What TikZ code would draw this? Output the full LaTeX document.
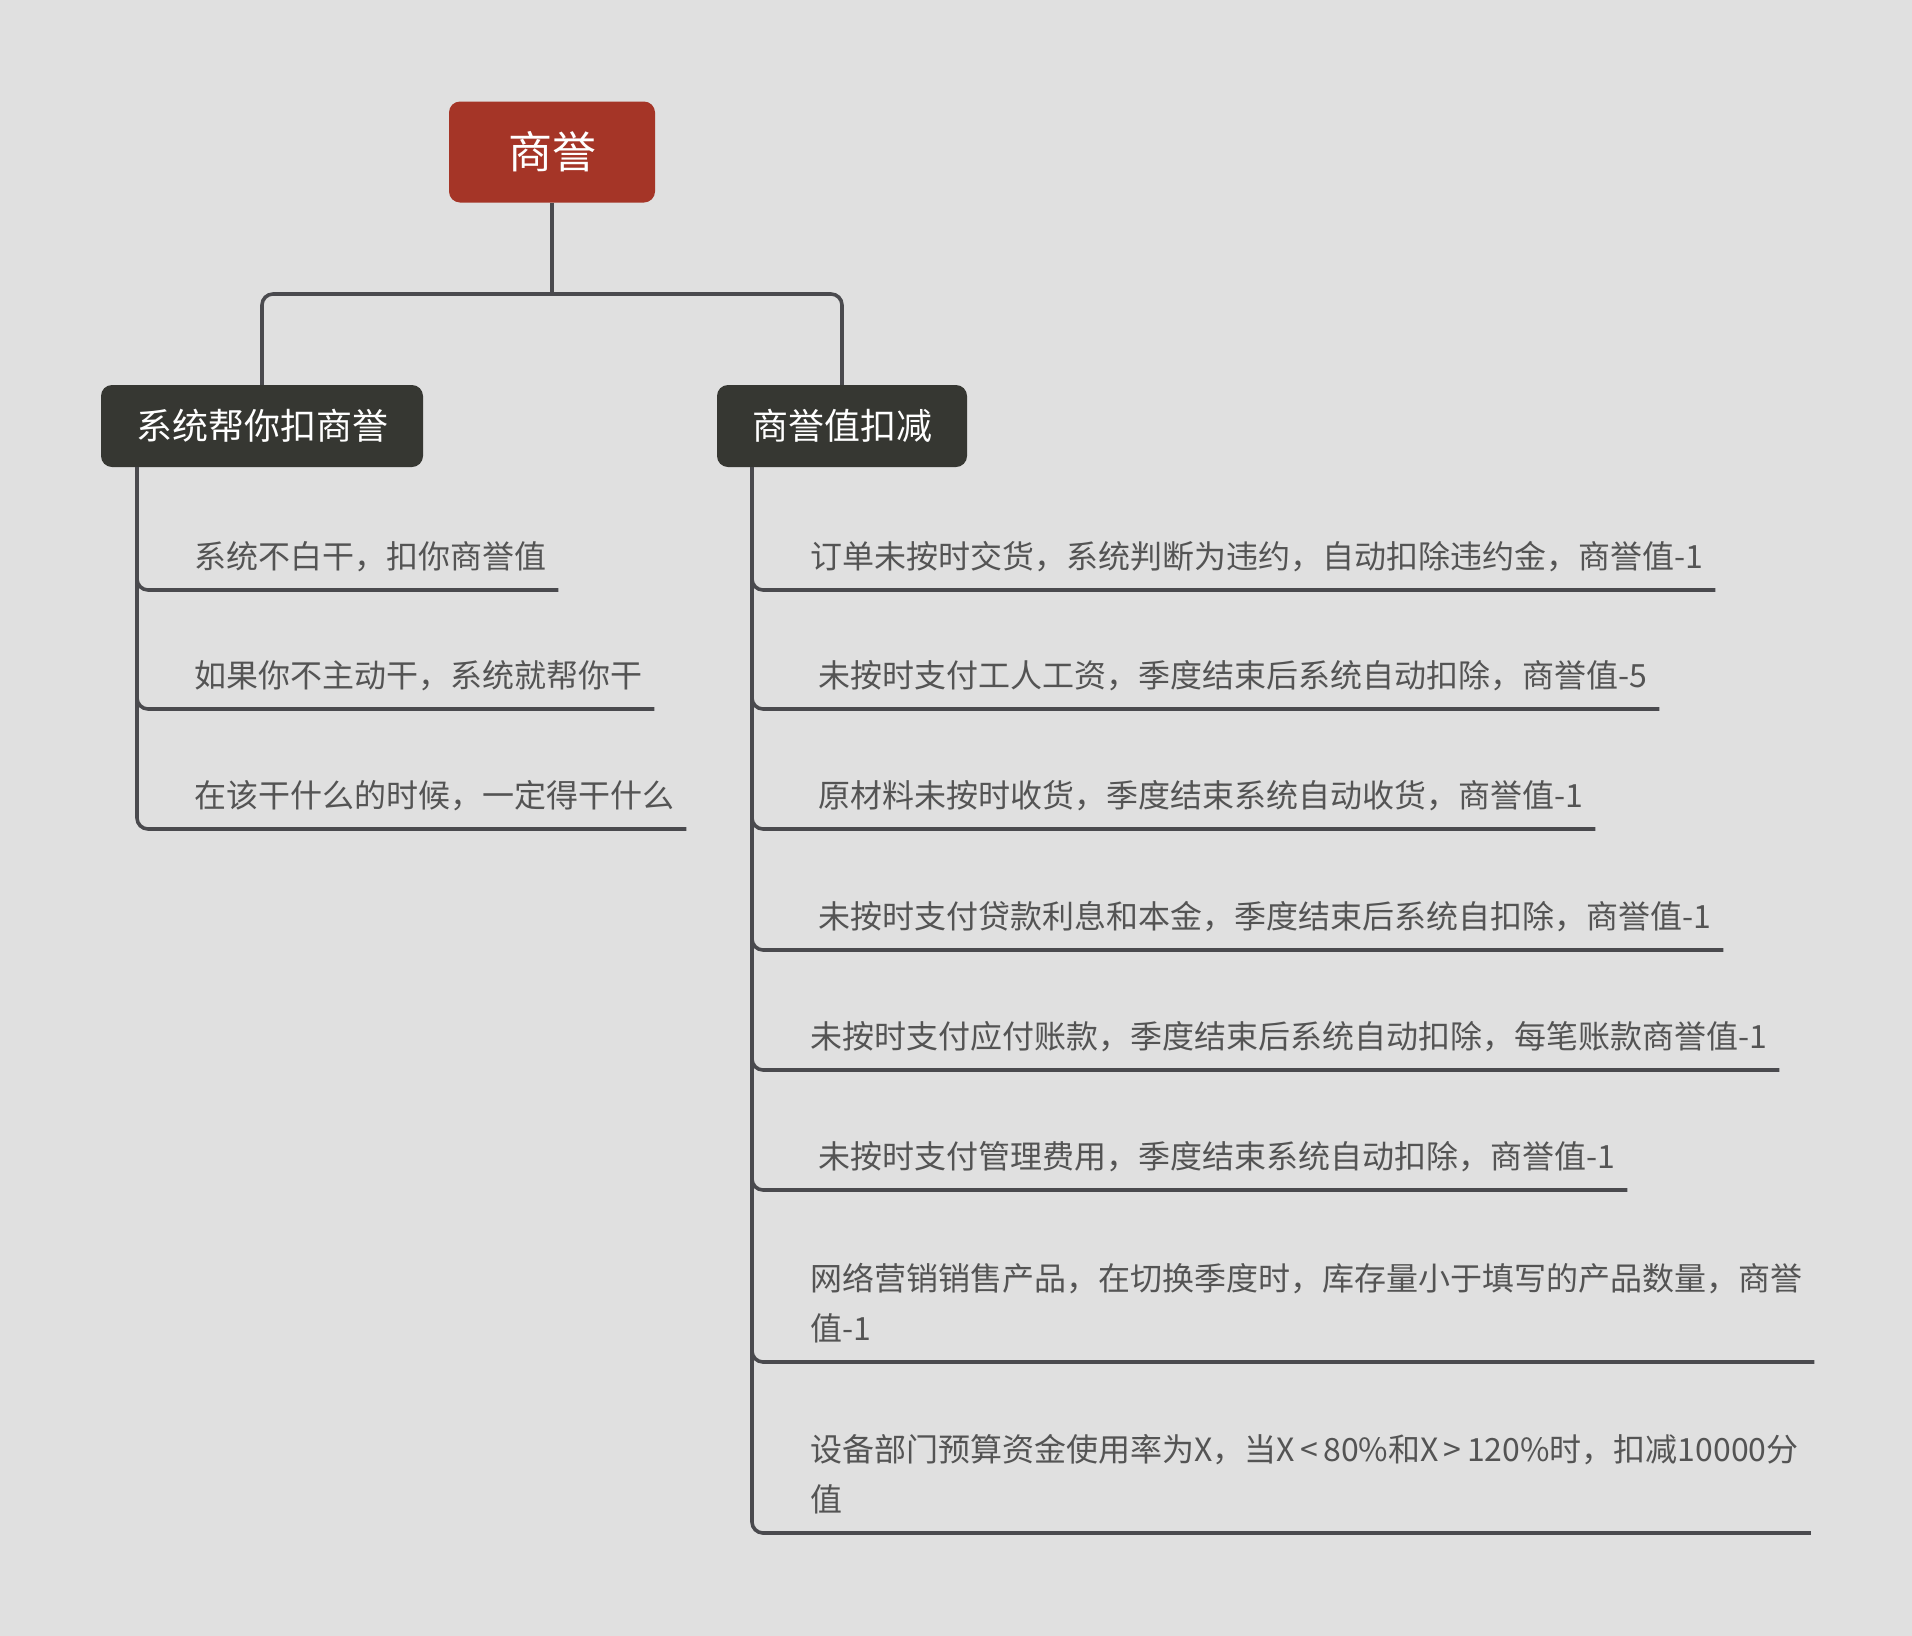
\documentclass[tikz,border=0pt]{standalone}
\usepackage{fontspec}
\setmainfont{Noto Sans CJK SC}
\definecolor{bg}{RGB}{224,224,224}
\definecolor{rootred}{RGB}{165,53,39}
\definecolor{childdark}{RGB}{54,55,50}
\definecolor{linegray}{RGB}{74,74,78}
\definecolor{leafgray}{RGB}{84,84,84}
\tikzset{
  rootbox/.style={fill=rootred, rounded corners=11pt, text=white, minimum width=206pt, minimum height=101pt, inner sep=0pt, font=\fontsize{44}{50}\selectfont},
  childbox/.style={fill=childdark, rounded corners=11pt, text=white, minimum height=82pt, inner sep=0pt, font=\fontsize{36}{42}\selectfont},
  leaf/.style={text=leafgray, anchor=south west, inner xsep=12pt, inner ysep=0pt, text depth=21pt, align=left, font=\fontsize{32}{50}\selectfont},
  conn/.style={draw=linegray, line width=3.6pt, rounded corners=11pt}
}
\begin{document}
\begin{tikzpicture}[x=1pt,y=-1pt]
\fill[bg] (0,0) rectangle (1912,1636);
\useasboundingbox (0,0) rectangle (1912,1636);

\node[rootbox] (root) at (552,152) {商誉};
\node[childbox, minimum width=322pt] (c1) at (262,426) {系统帮你扣商誉};
\node[childbox, minimum width=250pt] (c2) at (842,426) {商誉值扣减};

\coordinate (hub) at (552,294);
\draw[conn, rounded corners=0pt] (root.south) -- (hub);
\draw[conn] (hub) -| (c1.north);
\draw[conn] (hub) -| (c2.north);

\coordinate (s1) at (137,467);
\coordinate (s2) at (752,467);

% left leaves
\node[leaf] (l1) at (182,590) {系统不白干，扣你商誉值};
\node[leaf] (l2) at (182,709) {如果你不主动干，系统就帮你干};
\node[leaf] (l3) at (182,829) {在该干什么的时候，一定得干什么};

% right leaves
\node[leaf] (r1) at (798,590) {订单未按时交货，系统判断为违约，自动扣除违约金，商誉值-1};
\node[leaf] (r2) at (798,709) {\hspace*{8pt}未按时支付工人工资，季度结束后系统自动扣除，商誉值-5};
\node[leaf] (r3) at (798,829) {\hspace*{8pt}原材料未按时收货，季度结束系统自动收货，商誉值-1};
\node[leaf] (r4) at (798,950) {\hspace*{8pt}未按时支付贷款利息和本金，季度结束后系统自扣除，商誉值-1};
\node[leaf] (r5) at (798,1070) {未按时支付应付账款，季度结束后系统自动扣除，每笔账款商誉值-1};
\node[leaf] (r6) at (798,1190) {\hspace*{8pt}未按时支付管理费用，季度结束系统自动扣除，商誉值-1};
\node[leaf] (r7) at (798,1362) {网络营销销售产品，在切换季度时，库存量小于填写的产品数量，商誉\\值-1};
\node[leaf] (r8) at (798,1533) {设备部门预算资金使用率为X，当X\,<\,80\%和X\,>\,120\%时，扣减10000分\\值};

\foreach \l in {l1,l2,l3} { \draw[conn] (s1) |- (\l.south east); }
\foreach \r in {r1,r2,r3,r4,r5,r6,r7,r8} { \draw[conn] (s2) |- (\r.south east); }
\end{tikzpicture}
\end{document}
